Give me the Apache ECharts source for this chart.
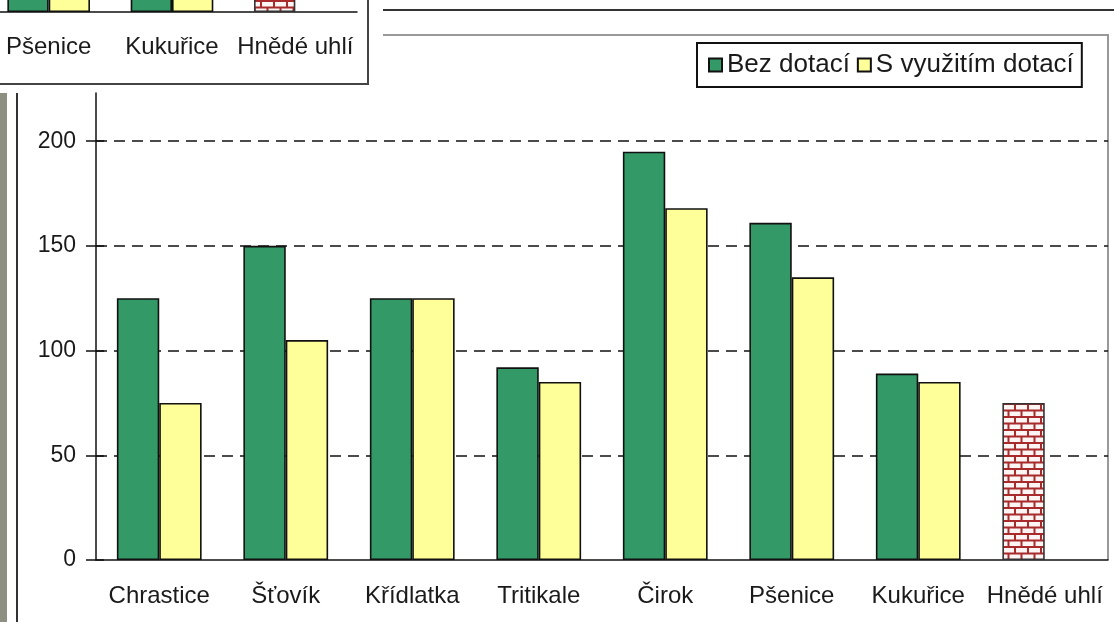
<!DOCTYPE html>
<html><head><meta charset="utf-8">
<script src="https://cdn.jsdelivr.net/npm/echarts@6/dist/echarts.min.js"></script>
<style>html,body{margin:0;padding:0;background:#fff}#c{width:1114px;height:622px}</style>
</head><body><div id="c"></div>
<script>
const categories = ['Chrastice','Šťovík','Křídlatka','Tritikale','Čirok','Pšenice','Kukuřice','Hnědé uhlí'];
const bezDotaci = [125,150,125,92,195,161,89,75];
const sVyuzitim = [75,105,125,85,168,135,85,null];
const yTicks = [0,50,100,150,200];
const seriesNames = ['Bez dotací','S využitím dotací'];
const brickCategory = 'Hnědé uhlí';
const insetCategories = categories.slice(5);
const insetBez = bezDotaci.slice(5);
const insetS = sVyuzitim.slice(5);

const FONT = "'Liberation Sans', Arial, sans-serif";
const GREEN = '#339966', YELLOW = '#FFFF99';

function brick(){
  const c=document.createElement('canvas'); c.width=26; c.height=13;
  const g=c.getContext('2d'); g.fillStyle='#fdf4f4'; g.fillRect(0,0,26,13);
  g.strokeStyle='#a82a2a'; g.lineWidth=2;
  g.beginPath();
  g.moveTo(0,1);g.lineTo(26,1); g.moveTo(0,7.5); g.lineTo(26,7.5);
  g.moveTo(1,1);g.lineTo(1,7.5); g.moveTo(14,1); g.lineTo(14,7.5);
  g.moveTo(7.5,7.5); g.lineTo(7.5,13); g.moveTo(20.5,7.5); g.lineTo(20.5,13);
  g.stroke(); return c;
}
const brickImg = brick();
function withBrick(vals, cats){
  return vals.map((v,i)=> cats[i]===brickCategory ? {value:v, itemStyle:{color:{image:brickImg, repeat:'repeat'}, borderColor:'#333'}} : v);
}

const chart = echarts.init(document.getElementById('c'));
const YMAX = 223;
const barStyle = (c)=>({color:c, borderColor:'#111', borderWidth:1.6});

chart.setOption({
  animation:false,
  backgroundColor:'#fff',
  textStyle:{fontFamily:FONT},
  graphic:[
    {type:'rect', z:-1, shape:{x:0,y:93,width:7,height:529}, style:{fill:'#8d9080'}},
    {type:'line', z:-1, shape:{x1:17,y1:93,x2:17,y2:622}, style:{stroke:'#333',lineWidth:2}},
    {type:'rect', z:-1, shape:{x:-5,y:-5,width:373,height:89}, style:{fill:'none',stroke:'#444',lineWidth:2}},
    {type:'line', z:-1, shape:{x1:383,y1:10,x2:1114,y2:10}, style:{stroke:'#333',lineWidth:2}},
    {type:'polyline', z:-1, shape:{points:[[383,35],[1108,35],[1108,560]]}, style:{stroke:'#999',lineWidth:2,fill:'none'}}
  ],
  legend:{
    data:seriesNames, left:697, top:43, padding:[9,8,9,11], itemGap:7,
    itemWidth:13, itemHeight:13, icon:'rect', borderColor:'#111', borderWidth:2,
    textStyle:{fontSize:26, color:'#1a1a1a', fontFamily:FONT}
  },
  grid:[
    {left:96, right:6, top:93, bottom:62, outerBoundsMode:'none', containLabel:false},
    {left:-13, width:370, top:0, height:12, outerBoundsMode:'none', containLabel:false}
  ],
  xAxis:[
    {type:'category', gridIndex:0, data:categories,
      axisLine:{lineStyle:{color:'#111',width:1.5}},
      axisTick:{length:7, lineStyle:{color:'#111',width:1.5}},
      axisLabel:{fontSize:24, color:'#1a1a1a', margin:24, interval:0, fontFamily:FONT}},
    {type:'category', gridIndex:1, data:insetCategories,
      axisLine:{lineStyle:{color:'#111',width:1.5}},
      axisTick:{length:8, lineStyle:{color:'#111',width:1.5}},
      axisLabel:{fontSize:24, color:'#1a1a1a', margin:23, interval:0, fontFamily:FONT}}
  ],
  yAxis:[
    {type:'value', gridIndex:0, min:0, max:YMAX, interval:50,
      axisLine:{show:true, lineStyle:{color:'#111',width:1.5}},
      axisTick:{show:true, length:10, customValues:yTicks, lineStyle:{color:'#111',width:1.5}},
      axisLabel:{fontSize:23, color:'#1a1a1a', margin:20, customValues:yTicks, fontFamily:FONT},
      splitLine:{show:false}},
    {type:'value', gridIndex:0, min:0, max:YMAX, interval:50, position:'left',
      axisLine:{show:false},
      axisTick:{show:true, inside:true, length:8, customValues:yTicks, lineStyle:{color:'#111',width:1.5}},
      axisLabel:{show:false}, splitLine:{show:false}},
    {type:'value', gridIndex:1, min:0, max:10, show:false}
  ],
  series:[
    {name:seriesNames[0], type:'bar', xAxisIndex:0, yAxisIndex:0, data:withBrick(bezDotaci,categories),
      barGap:'0%', barCategoryGap:'33%', itemStyle:barStyle(GREEN),
      markLine:{silent:true, z:1, symbol:'none', label:{show:false},
        lineStyle:{color:'#111', type:[11,7], width:1.5},
        data:yTicks.filter(v=>v>0).map(v=>({yAxis:v}))}},
    {name:seriesNames[1], type:'bar', xAxisIndex:0, yAxisIndex:0, data:sVyuzitim,
      barGap:'0%', barCategoryGap:'33%', itemStyle:barStyle(YELLOW)},
    {name:'inset1', type:'bar', xAxisIndex:1, yAxisIndex:2, data:withBrick(insetBez,insetCategories),
      clip:false, barGap:'0%', barCategoryGap:'33%', itemStyle:barStyle(GREEN)},
    {name:'inset2', type:'bar', xAxisIndex:1, yAxisIndex:2, data:insetS,
      clip:false, barGap:'0%', barCategoryGap:'33%', itemStyle:barStyle(YELLOW)}
  ]
});
</script></body></html>
